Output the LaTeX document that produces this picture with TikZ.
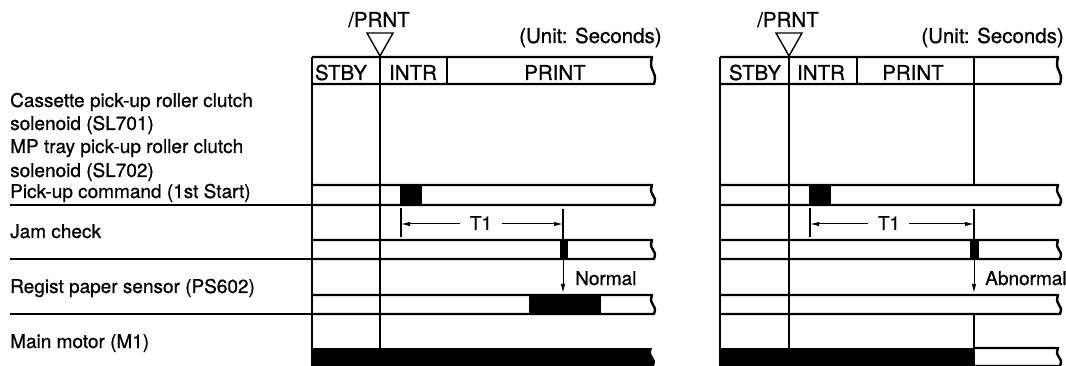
\documentclass[tikz,border=0pt]{standalone}
\usepackage{fontspec}
\setmainfont[FakeBold=0.8]{TeX Gyre Heros}
\usetikzlibrary{arrows.meta}
\newcommand{\tdwave}[4]{%
  \draw[bandline] (#1,#3) -- (#2,#3) .. controls ({#2-4},{#3+0.6*(#4-#3)}) and ({#2+6},{#3+0.45*(#4-#3)}) .. ({#2+2},#4) -- (#1,#4);}
\newcommand{\tdfillwave}[4]{%
  \fill (#1,#3) -- (#2,#3) .. controls ({#2-4},{#3+0.6*(#4-#3)}) and ({#2+6},{#3+0.45*(#4-#3)}) .. ({#2+2},#4) -- (#1,#4) -- cycle;}
\tikzset{
  bandline/.style={line width=2.4pt, line join=round},
  vline/.style={line width=1.2pt},
  border/.style={line width=2pt},
  lbl/.style={anchor=base west},
  hdr/.style={anchor=base, font=\fontsize{20.5}{24}\selectfont},
  top/.style={font=\fontsize{20.5}{24}\selectfont},
  tri/.style={line width=1.4pt, fill=white, line join=miter},
  dimarrow/.style={line width=1pt, -{Latex[length=9pt,width=4.5pt]}},
  every node/.style={font=\fontsize{19}{23}\selectfont, inner sep=0pt}
}
\begin{document}
\begin{tikzpicture}[x=1pt,y=-1pt]
\useasboundingbox (0,0) rectangle (1066,366);
% ---------- labels ----------
\node[lbl] (l1) at (10,107) {Cassette pick-up roller clutch};
\node[lbl] (l2) at (10,130) {solenoid (SL701)};
\node[lbl] (l3) at (10,153) {MP tray pick-up roller clutch};
\node[lbl] (l4) at (10,177) {solenoid (SL702)};
\node[lbl] (l5) at (10,198) {Pick-up command (1st Start)};
\node[lbl] (l6) at (10,238) {Jam check};
\node[lbl] (l7) at (10,293) {Regist paper sensor (PS602)};
\node[lbl] (l8) at (10,348) {Main motor (M1)};
\draw[bandline] (10,205) -- (312,205);
\draw[bandline] (10,259) -- (312,259);
\draw[bandline] (10,314) -- (312,314);
% ---------- left panel ----------
\tdfillwave{312}{652}{348}{366}
\tdwave{312}{652}{57}{84}
\draw[vline] (447,57) -- (447,84);
\draw[vline] (380,57) -- (380,348);
\draw[border] (312,57) -- (312,366);
\draw[tri] (367,33) -- (393,33) -- (380,56) -- cycle;
\node[hdr] (prntA) at (379,27) {/PRNT};
\node[top, anchor=base west] (unitA) at (519,43) {(Unit: Seconds)};
\node[hdr] (stbyA) at (341,80) {STBY};
\node[hdr] (intrA) at (413,80) {INTR};
\node[hdr] (printA) at (555,80) {PRINT};
% band 1
\fill (400,185) rectangle (422,205);
\tdwave{312}{652}{185}{205}
% T1
\coordinate (t1aL) at (401,224);
\coordinate (t1aR) at (563,224);
\coordinate (t1aLs) at (460,224);
\coordinate (t1aRs) at (502,224);
\draw[vline] (401,208) -- (401,237);
\draw[vline] (563,209) -- (563,240);
\node[anchor=base] (t1A) at (481,230) {T1};
\draw[dimarrow] (t1aLs) -- (t1aL);
\draw[dimarrow] (t1aRs) -- (t1aR);
% band 2
\fill (560,240) rectangle (568,259);
\tdwave{312}{652}{240}{259}
\coordinate (nA0) at (563,260);
\coordinate (nA1) at (563,293);
\draw[dimarrow] (nA0) -- (nA1);
\node[anchor=base west] (normal) at (575,285) {Normal};
% band 3
\fill (529,295) rectangle (601,314);
\tdwave{312}{652}{295}{314}
% ---------- right panel ----------
\fill (720,348) rectangle (975,366);
\tdwave{975}{1058}{348}{366}
\tdwave{720}{1058}{57}{84}
\draw[vline] (857,57) -- (857,84);
\draw[vline] (974,57) -- (974,185);
\draw[vline] (789,57) -- (789,348);
\draw[border] (720,57) -- (720,366);
\draw[tri] (776,33) -- (802,33) -- (789,56) -- cycle;
\node[hdr] (prntB) at (788,27) {/PRNT};
\node[top, anchor=base east] (unitB) at (1064,43) {(Unit: Seconds)};
\node[hdr] (stbyB) at (755,80) {STBY};
\node[hdr] (intrB) at (821,80) {INTR};
\node[hdr] (printB) at (913,80) {PRINT};
% band 1
\fill (809,185) rectangle (831,205);
\tdwave{720}{1058}{185}{205}
% T1
\coordinate (t1bL) at (810,224);
\coordinate (t1bR) at (974,224);
\coordinate (t1bLs) at (868,224);
\coordinate (t1bRs) at (909,224);
\draw[vline] (810,208) -- (810,237);
\draw[vline] (974,209) -- (974,240);
\node[anchor=base] (t1B) at (889,230) {T1};
\draw[dimarrow] (t1bLs) -- (t1bL);
\draw[dimarrow] (t1bRs) -- (t1bR);
% band 2
\fill (970,240) rectangle (979,259);
\tdwave{720}{1058}{240}{259}
\coordinate (nB0) at (974,260);
\coordinate (nB1) at (974,293);
\draw[dimarrow] (nB0) -- (nB1);
\node[anchor=base west] (abnormal) at (985,285) {Abnormal};
% band 3
\tdwave{720}{1058}{295}{314}
\draw[vline] (974,314) -- (974,348);
\end{tikzpicture}
\end{document}
